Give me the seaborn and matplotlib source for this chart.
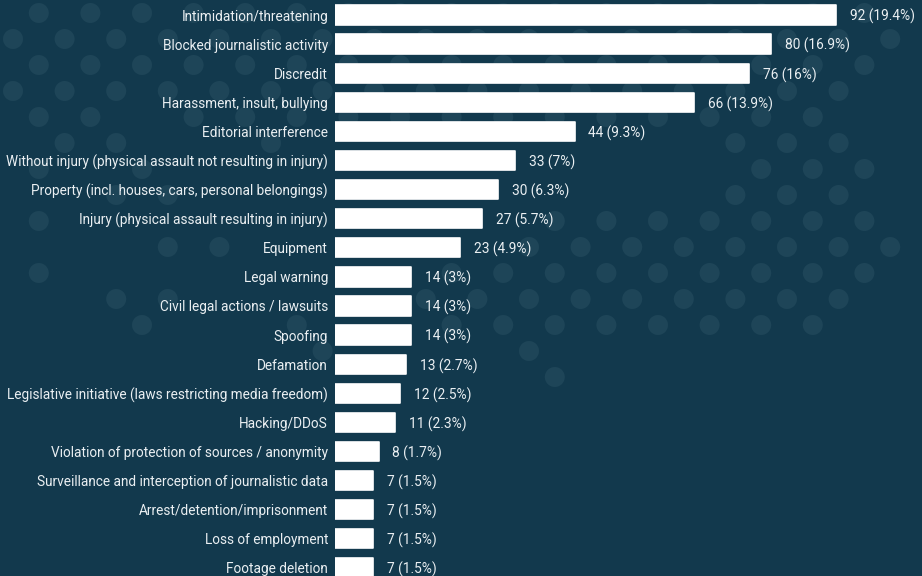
import matplotlib
matplotlib.use("Agg")
import matplotlib.pyplot as plt
from matplotlib.patches import Circle
import seaborn as sns
import pandas as pd

categories = [
    "Intimidation/threatening",
    "Blocked journalistic activity",
    "Discredit",
    "Harassment, insult, bullying",
    "Editorial interference",
    "Without injury (physical assault not resulting in injury)",
    "Property (incl. houses, cars, personal belongings)",
    "Injury (physical assault resulting in injury)",
    "Equipment",
    "Legal warning",
    "Civil legal actions / lawsuits",
    "Spoofing",
    "Defamation",
    "Legislative initiative (laws restricting media freedom)",
    "Hacking/DDoS",
    "Violation of protection of sources / anonymity",
    "Surveillance and interception of journalistic data",
    "Arrest/detention/imprisonment",
    "Loss of employment",
    "Footage deletion",
]
counts = [92, 80, 76, 66, 44, 33, 30, 27, 23, 14, 14, 14, 13, 12, 11, 8, 7, 7, 7, 7]
percents = ["19.4", "16.9", "16", "13.9", "9.3", "7", "6.3", "5.7", "4.9", "3",
            "3", "3", "2.7", "2.5", "2.3", "1.7", "1.5", "1.5", "1.5", "1.5"]

BG = "#12394d"
DOT = "#1e4558"
TXT = "#eaeff2"

# decorative dot lattice: row index -> half-step column indices
dot_rows = {
    0: list(range(1, 34, 2)),
    1: list(range(0, 35, 2)),
    2: list(range(1, 34, 2)),
    3: list(range(0, 33, 2)),
    4: [1, 3, 7, 9, 11] + list(range(13, 32, 2)),
    5: [2, 4, 10, 28, 30, 32],
    6: [1, 5, 29, 31, 33],
    7: [4, 6, 28, 30, 32],
    8: [1] + list(range(21, 34, 2)),
    9: [6, 8] + list(range(20, 35, 2)),
    10: [1] + list(range(17, 34, 2)),
    11: [4, 6] + list(range(16, 33, 2)),
    12: [5, 11] + list(range(17, 32, 2)),
    13: [12, 20],
    14: [21],
}

sns.set_theme(style="white")
plt.rcParams["font.family"] = ["Roboto", "DejaVu Sans"]

W, H, DPI = 922, 576, 100
fig = plt.figure(figsize=(W / DPI, H / DPI), dpi=DPI, facecolor=BG)

bg = fig.add_axes([0, 0, 1, 1], zorder=0)
bg.set_xlim(0, W)
bg.set_ylim(H, 0)
bg.axis("off")
bg.set_facecolor(BG)
for r, cols in dot_rows.items():
    for c in cols:
        bg.add_patch(Circle((13 + 25.8 * c, 13 + 26 * r), 10, color=DOT, lw=0))

left_px = 335
ax = fig.add_axes([left_px / W, 0, 1 - left_px / W, 1], zorder=1)
ax.patch.set_alpha(0)

df = pd.DataFrame({"category": categories, "count": counts})
sns.barplot(data=df, x="count", y="category", orient="h", color="white",
            width=0.663, saturation=1, ax=ax, edgecolor="white",
            linewidth=1.2)
for p in ax.patches:
    p.set_joinstyle("round")

pitch = 29.1
ax.set_ylim((H - 15) / pitch, -15 / pitch)
ax.set_xlim(0, 92 * (W - left_px) / (836 - left_px))

for i, (v, pc) in enumerate(zip(counts, percents)):
    ax.annotate(f"{v} ({pc}%)", xy=(v, i), xytext=(10, 0),
                textcoords="offset points", va="center_baseline", ha="left",
                color=TXT, fontsize=9.9)

ax.set_xlabel("")
ax.set_ylabel("")
ax.set_xticks([])
ax.tick_params(axis="y", length=0, pad=5, labelsize=9.8, labelcolor=TXT)
for s in ax.spines.values():
    s.set_visible(False)

fig.savefig("out.png", dpi=DPI, facecolor=BG)
